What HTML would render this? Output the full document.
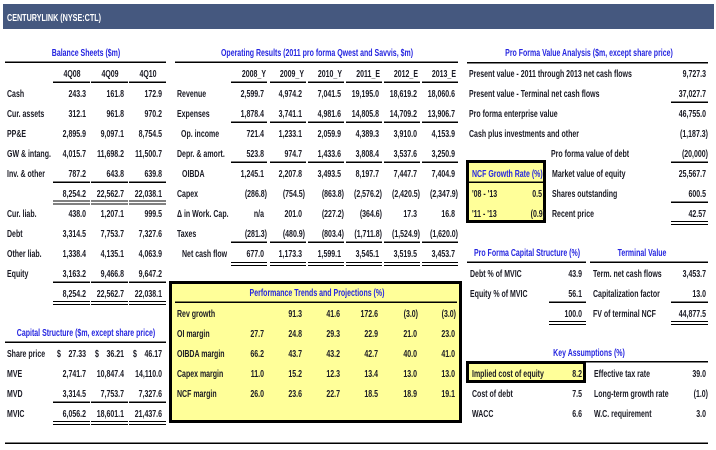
<!DOCTYPE html>
<html><head><meta charset="utf-8"><style>html,body{margin:0;padding:0;background:#fff}svg{display:block}</style></head>
<body>
<svg width="716" height="450" xmlns="http://www.w3.org/2000/svg" font-family="'Liberation Sans', Arial, sans-serif" font-weight="bold" font-size="10">
<style>text{fill:#1a1a24}.e{text-anchor:end}.m{text-anchor:middle}.t{fill:#2626e0}.w{fill:#fff}</style>
<rect width="716" height="450" fill="#fff"/>
<rect x="3" y="4" width="711" height="25" fill="#45587f"/>
<text class="w" transform="translate(7,21) scale(.72,1)">CENTURYLINK (NYSE:CTL)</text>

<!-- yellow boxes -->
<rect x="170.5" y="282.5" width="290" height="139" fill="#ffff99" stroke="#000" stroke-width="3"/>
<rect x="467.5" y="161.5" width="77" height="60" fill="#ffff99" stroke="#000" stroke-width="3"/>
<rect x="467.5" y="362.5" width="117" height="19" fill="#ffff99" stroke="#000" stroke-width="3"/>

<g fill="#000">
<!-- balance -->
<rect x="5" y="61.5" width="161" height="1.5"/>
<rect x="53" y="81.5" width="37" height="1.5"/><rect x="91" y="81.5" width="37" height="1.5"/><rect x="129" y="81.5" width="37" height="1.5"/>
<rect x="53" y="181.5" width="37" height="1.5"/><rect x="91" y="181.5" width="37" height="1.5"/><rect x="129" y="181.5" width="37" height="1.5"/>
<rect x="53" y="200.5" width="37" height="1"/><rect x="91" y="200.5" width="37" height="1"/><rect x="129" y="200.5" width="37" height="1"/>
<rect x="53" y="203.5" width="37" height="1"/><rect x="91" y="203.5" width="37" height="1"/><rect x="129" y="203.5" width="37" height="1"/>
<rect x="53" y="281.5" width="37" height="1.5"/><rect x="91" y="281.5" width="37" height="1.5"/><rect x="129" y="281.5" width="37" height="1.5"/>
<rect x="53" y="301" width="37" height="1"/><rect x="91" y="301" width="37" height="1"/><rect x="129" y="301" width="37" height="1"/>
<rect x="53" y="304" width="37" height="1"/><rect x="91" y="304" width="37" height="1"/><rect x="129" y="304" width="37" height="1"/>
<!-- capital structure -->
<rect x="5" y="341.5" width="161" height="1.5"/>
<rect x="53" y="401.5" width="37" height="1.5"/><rect x="91" y="401.5" width="37" height="1.5"/><rect x="129" y="401.5" width="37" height="1.5"/>
<rect x="53" y="421" width="37" height="1"/><rect x="91" y="421" width="37" height="1"/><rect x="129" y="421" width="37" height="1"/>
<rect x="53" y="424" width="37" height="1"/><rect x="91" y="424" width="37" height="1"/><rect x="129" y="424" width="37" height="1"/>
<!-- bottom -->
<rect x="5" y="442.5" width="703" height="1.5"/>
<!-- operating -->
<rect x="175" y="61.5" width="283" height="1.5"/>
<g>
<rect x="231" y="81.5" width="36" height="1.5"/><rect x="270" y="81.5" width="36" height="1.5"/><rect x="308" y="81.5" width="36" height="1.5"/><rect x="346" y="81.5" width="36" height="1.5"/><rect x="384" y="81.5" width="36" height="1.5"/><rect x="422" y="81.5" width="36" height="1.5"/>
<rect x="231" y="121.5" width="36" height="1.5"/><rect x="270" y="121.5" width="36" height="1.5"/><rect x="308" y="121.5" width="36" height="1.5"/><rect x="346" y="121.5" width="36" height="1.5"/><rect x="384" y="121.5" width="36" height="1.5"/><rect x="422" y="121.5" width="36" height="1.5"/>
<rect x="231" y="161.5" width="36" height="1.5"/><rect x="270" y="161.5" width="36" height="1.5"/><rect x="308" y="161.5" width="36" height="1.5"/><rect x="346" y="161.5" width="36" height="1.5"/><rect x="384" y="161.5" width="36" height="1.5"/><rect x="422" y="161.5" width="36" height="1.5"/>
<rect x="231" y="241.5" width="36" height="1.5"/><rect x="270" y="241.5" width="36" height="1.5"/><rect x="308" y="241.5" width="36" height="1.5"/><rect x="346" y="241.5" width="36" height="1.5"/><rect x="384" y="241.5" width="36" height="1.5"/><rect x="422" y="241.5" width="36" height="1.5"/>
<rect x="231" y="262" width="36" height="1"/><rect x="270" y="262" width="36" height="1"/><rect x="308" y="262" width="36" height="1"/><rect x="346" y="262" width="36" height="1"/><rect x="384" y="262" width="36" height="1"/><rect x="422" y="262" width="36" height="1"/>
<rect x="231" y="265" width="36" height="1"/><rect x="270" y="265" width="36" height="1"/><rect x="308" y="265" width="36" height="1"/><rect x="346" y="265" width="36" height="1"/><rect x="384" y="265" width="36" height="1"/><rect x="422" y="265" width="36" height="1"/>
</g>
<!-- perf line -->
<rect x="175" y="301.5" width="282" height="1.5"/>
<!-- right -->
<rect x="467" y="62" width="241" height="1.5"/>
<rect x="671" y="101.5" width="37" height="1.5"/>
<rect x="671" y="161.5" width="37" height="1.5"/>
<rect x="671" y="201.5" width="37" height="1.5"/>
<rect x="671" y="221" width="37" height="1"/><rect x="671" y="224" width="37" height="1"/>
<rect x="469" y="181.5" width="75" height="1.5"/>
<rect x="467" y="261.5" width="119" height="1.5"/><rect x="590" y="261.5" width="118" height="1.5"/>
<rect x="549" y="301.5" width="37" height="1.5"/><rect x="671" y="301.5" width="37" height="1.5"/>
<rect x="549" y="321" width="37" height="1"/><rect x="671" y="321" width="37" height="1"/>
<rect x="549" y="324" width="37" height="1"/><rect x="671" y="324" width="37" height="1"/>
<rect x="586" y="361" width="122" height="1.5"/>
</g>

<!-- ===== Balance sheets ===== -->
<text class="m t" transform="translate(86,56) scale(.7,1)">Balance Sheets ($m)</text>
<text class="m" transform="translate(72,77) scale(.7,1)">4Q08</text>
<text class="m" transform="translate(110,77) scale(.7,1)">4Q09</text>
<text class="m" transform="translate(148,77) scale(.7,1)">4Q10</text>

<text transform="translate(7,97) scale(.7,1)">Cash</text>
<text class="e" transform="translate(86,97) scale(.7,1)">243.3</text><text class="e" transform="translate(124,97) scale(.7,1)">161.8</text><text class="e" transform="translate(162,97) scale(.7,1)">172.9</text>
<text transform="translate(7,117) scale(.7,1)">Cur. assets</text>
<text class="e" transform="translate(86,117) scale(.7,1)">312.1</text><text class="e" transform="translate(124,117) scale(.7,1)">961.8</text><text class="e" transform="translate(162,117) scale(.7,1)">970.2</text>
<text transform="translate(7,137) scale(.7,1)">PP&amp;E</text>
<text class="e" transform="translate(86,137) scale(.7,1)">2,895.9</text><text class="e" transform="translate(124,137) scale(.7,1)">9,097.1</text><text class="e" transform="translate(162,137) scale(.7,1)">8,754.5</text>
<text transform="translate(7,157) scale(.7,1)">GW &amp; intang.</text>
<text class="e" transform="translate(86,157) scale(.7,1)">4,015.7</text><text class="e" transform="translate(124,157) scale(.7,1)">11,698.2</text><text class="e" transform="translate(162,157) scale(.7,1)">11,500.7</text>
<text transform="translate(7,177) scale(.7,1)">Inv. &amp; other</text>
<text class="e" transform="translate(86,177) scale(.7,1)">787.2</text><text class="e" transform="translate(124,177) scale(.7,1)">643.8</text><text class="e" transform="translate(162,177) scale(.7,1)">639.8</text>
<text class="e" transform="translate(86,197) scale(.7,1)">8,254.2</text><text class="e" transform="translate(124,197) scale(.7,1)">22,562.7</text><text class="e" transform="translate(162,197) scale(.7,1)">22,038.1</text>
<text transform="translate(7,217) scale(.7,1)">Cur. liab.</text>
<text class="e" transform="translate(86,217) scale(.7,1)">438.0</text><text class="e" transform="translate(124,217) scale(.7,1)">1,207.1</text><text class="e" transform="translate(162,217) scale(.7,1)">999.5</text>
<text transform="translate(7,237) scale(.7,1)">Debt</text>
<text class="e" transform="translate(86,237) scale(.7,1)">3,314.5</text><text class="e" transform="translate(124,237) scale(.7,1)">7,753.7</text><text class="e" transform="translate(162,237) scale(.7,1)">7,327.6</text>
<text transform="translate(7,257) scale(.7,1)">Other liab.</text>
<text class="e" transform="translate(86,257) scale(.7,1)">1,338.4</text><text class="e" transform="translate(124,257) scale(.7,1)">4,135.1</text><text class="e" transform="translate(162,257) scale(.7,1)">4,063.9</text>
<text transform="translate(7,277) scale(.7,1)">Equity</text>
<text class="e" transform="translate(86,277) scale(.7,1)">3,163.2</text><text class="e" transform="translate(124,277) scale(.7,1)">9,466.8</text><text class="e" transform="translate(162,277) scale(.7,1)">9,647.2</text>
<text class="e" transform="translate(86,297) scale(.7,1)">8,254.2</text><text class="e" transform="translate(124,297) scale(.7,1)">22,562.7</text><text class="e" transform="translate(162,297) scale(.7,1)">22,038.1</text>

<!-- ===== Capital structure ===== -->
<text class="m t" transform="translate(86,336) scale(.7,1)">Capital Structure ($m, except share price)</text>
<text transform="translate(7,357) scale(.7,1)">Share price</text>
<text transform="translate(57,357) scale(.7,1)">$</text><text class="e" transform="translate(86,357) scale(.7,1)">27.33</text>
<text transform="translate(95,357) scale(.7,1)">$</text><text class="e" transform="translate(124,357) scale(.7,1)">36.21</text>
<text transform="translate(133,357) scale(.7,1)">$</text><text class="e" transform="translate(162,357) scale(.7,1)">46.17</text>
<text transform="translate(7,377) scale(.7,1)">MVE</text>
<text class="e" transform="translate(86,377) scale(.7,1)">2,741.7</text><text class="e" transform="translate(124,377) scale(.7,1)">10,847.4</text><text class="e" transform="translate(162,377) scale(.7,1)">14,110.0</text>
<text transform="translate(7,397) scale(.7,1)">MVD</text>
<text class="e" transform="translate(86,397) scale(.7,1)">3,314.5</text><text class="e" transform="translate(124,397) scale(.7,1)">7,753.7</text><text class="e" transform="translate(162,397) scale(.7,1)">7,327.6</text>
<text transform="translate(7,417) scale(.7,1)">MVIC</text>
<text class="e" transform="translate(86,417) scale(.7,1)">6,056.2</text><text class="e" transform="translate(124,417) scale(.7,1)">18,601.1</text><text class="e" transform="translate(162,417) scale(.7,1)">21,437.6</text>

<!-- ===== Operating results ===== -->
<text class="m t" transform="translate(317,56) scale(.7,1)">Operating Results (2011 pro forma Qwest and Savvis, $m)</text>
<text class="e" transform="translate(266,77) scale(.7,1)">2008_Y</text>
<text class="e" transform="translate(304,77) scale(.7,1)">2009_Y</text>
<text class="e" transform="translate(342,77) scale(.7,1)">2010_Y</text>
<text class="e" transform="translate(380,77) scale(.7,1)">2011_E</text>
<text class="e" transform="translate(418,77) scale(.7,1)">2012_E</text>
<text class="e" transform="translate(456,77) scale(.7,1)">2013_E</text>

<text transform="translate(177,97) scale(.7,1)">Revenue</text>
<text class="e" transform="translate(264,97) scale(.7,1)">2,599.7</text><text class="e" transform="translate(302,97) scale(.7,1)">4,974.2</text><text class="e" transform="translate(341,97) scale(.7,1)">7,041.5</text><text class="e" transform="translate(379,97) scale(.7,1)">19,195.0</text><text class="e" transform="translate(417,97) scale(.7,1)">18,619.2</text><text class="e" transform="translate(455,97) scale(.7,1)">18,060.6</text>
<text transform="translate(177,117) scale(.7,1)">Expenses</text>
<text class="e" transform="translate(264,117) scale(.7,1)">1,878.4</text><text class="e" transform="translate(302,117) scale(.7,1)">3,741.1</text><text class="e" transform="translate(341,117) scale(.7,1)">4,981.6</text><text class="e" transform="translate(379,117) scale(.7,1)">14,805.8</text><text class="e" transform="translate(417,117) scale(.7,1)">14,709.2</text><text class="e" transform="translate(455,117) scale(.7,1)">13,906.7</text>
<text transform="translate(181,137) scale(.7,1)">Op. income</text>
<text class="e" transform="translate(264,137) scale(.7,1)">721.4</text><text class="e" transform="translate(302,137) scale(.7,1)">1,233.1</text><text class="e" transform="translate(341,137) scale(.7,1)">2,059.9</text><text class="e" transform="translate(379,137) scale(.7,1)">4,389.3</text><text class="e" transform="translate(417,137) scale(.7,1)">3,910.0</text><text class="e" transform="translate(455,137) scale(.7,1)">4,153.9</text>
<text transform="translate(177,157) scale(.7,1)">Depr. &amp; amort.</text>
<text class="e" transform="translate(264,157) scale(.7,1)">523.8</text><text class="e" transform="translate(302,157) scale(.7,1)">974.7</text><text class="e" transform="translate(341,157) scale(.7,1)">1,433.6</text><text class="e" transform="translate(379,157) scale(.7,1)">3,808.4</text><text class="e" transform="translate(417,157) scale(.7,1)">3,537.6</text><text class="e" transform="translate(455,157) scale(.7,1)">3,250.9</text>
<text transform="translate(182,177) scale(.7,1)">OIBDA</text>
<text class="e" transform="translate(264,177) scale(.7,1)">1,245.1</text><text class="e" transform="translate(302,177) scale(.7,1)">2,207.8</text><text class="e" transform="translate(341,177) scale(.7,1)">3,493.5</text><text class="e" transform="translate(379,177) scale(.7,1)">8,197.7</text><text class="e" transform="translate(417,177) scale(.7,1)">7,447.7</text><text class="e" transform="translate(455,177) scale(.7,1)">7,404.9</text>
<text transform="translate(177,197) scale(.7,1)">Capex</text>
<text class="e" transform="translate(267,197) scale(.7,1)">(286.8)</text><text class="e" transform="translate(305,197) scale(.7,1)">(754.5)</text><text class="e" transform="translate(344,197) scale(.7,1)">(863.8)</text><text class="e" transform="translate(382,197) scale(.7,1)">(2,576.2)</text><text class="e" transform="translate(420,197) scale(.7,1)">(2,420.5)</text><text class="e" transform="translate(458,197) scale(.7,1)">(2,347.9)</text>
<text transform="translate(177,217) scale(.7,1)">Δ in Work. Cap.</text>
<text class="e" transform="translate(264,217) scale(.7,1)">n/a</text><text class="e" transform="translate(302,217) scale(.7,1)">201.0</text><text class="e" transform="translate(344,217) scale(.7,1)">(227.2)</text><text class="e" transform="translate(382,217) scale(.7,1)">(364.6)</text><text class="e" transform="translate(417,217) scale(.7,1)">17.3</text><text class="e" transform="translate(455,217) scale(.7,1)">16.8</text>
<text transform="translate(177,237) scale(.7,1)">Taxes</text>
<text class="e" transform="translate(267,237) scale(.7,1)">(281.3)</text><text class="e" transform="translate(305,237) scale(.7,1)">(480.9)</text><text class="e" transform="translate(344,237) scale(.7,1)">(803.4)</text><text class="e" transform="translate(382,237) scale(.7,1)">(1,711.8)</text><text class="e" transform="translate(420,237) scale(.7,1)">(1,524.9)</text><text class="e" transform="translate(458,237) scale(.7,1)">(1,620.0)</text>
<text transform="translate(182,257) scale(.7,1)">Net cash flow</text>
<text class="e" transform="translate(264,257) scale(.7,1)">677.0</text><text class="e" transform="translate(302,257) scale(.7,1)">1,173.3</text><text class="e" transform="translate(341,257) scale(.7,1)">1,599.1</text><text class="e" transform="translate(379,257) scale(.7,1)">3,545.1</text><text class="e" transform="translate(417,257) scale(.7,1)">3,519.5</text><text class="e" transform="translate(455,257) scale(.7,1)">3,453.7</text>

<!-- ===== Performance ===== -->
<text class="m t" transform="translate(317,296) scale(.7,1)">Performance Trends and Projections (%)</text>
<text transform="translate(177,317) scale(.7,1)">Rev growth</text>
<text class="e" transform="translate(302,317) scale(.7,1)">91.3</text><text class="e" transform="translate(340,317) scale(.7,1)">41.6</text><text class="e" transform="translate(378,317) scale(.7,1)">172.6</text><text class="e" transform="translate(418,317) scale(.7,1)">(3.0)</text><text class="e" transform="translate(456,317) scale(.7,1)">(3.0)</text>
<text transform="translate(177,337) scale(.7,1)">OI margin</text>
<text class="e" transform="translate(264,337) scale(.7,1)">27.7</text><text class="e" transform="translate(302,337) scale(.7,1)">24.8</text><text class="e" transform="translate(340,337) scale(.7,1)">29.3</text><text class="e" transform="translate(378,337) scale(.7,1)">22.9</text><text class="e" transform="translate(417,337) scale(.7,1)">21.0</text><text class="e" transform="translate(455,337) scale(.7,1)">23.0</text>
<text transform="translate(177,357) scale(.7,1)">OIBDA margin</text>
<text class="e" transform="translate(264,357) scale(.7,1)">66.2</text><text class="e" transform="translate(302,357) scale(.7,1)">43.7</text><text class="e" transform="translate(340,357) scale(.7,1)">43.2</text><text class="e" transform="translate(378,357) scale(.7,1)">42.7</text><text class="e" transform="translate(417,357) scale(.7,1)">40.0</text><text class="e" transform="translate(455,357) scale(.7,1)">41.0</text>
<text transform="translate(177,377) scale(.7,1)">Capex margin</text>
<text class="e" transform="translate(264,377) scale(.7,1)">11.0</text><text class="e" transform="translate(302,377) scale(.7,1)">15.2</text><text class="e" transform="translate(340,377) scale(.7,1)">12.3</text><text class="e" transform="translate(378,377) scale(.7,1)">13.4</text><text class="e" transform="translate(417,377) scale(.7,1)">13.0</text><text class="e" transform="translate(455,377) scale(.7,1)">13.0</text>
<text transform="translate(177,397) scale(.7,1)">NCF margin</text>
<text class="e" transform="translate(264,397) scale(.7,1)">26.0</text><text class="e" transform="translate(302,397) scale(.7,1)">23.6</text><text class="e" transform="translate(340,397) scale(.7,1)">22.7</text><text class="e" transform="translate(378,397) scale(.7,1)">18.5</text><text class="e" transform="translate(417,397) scale(.7,1)">18.9</text><text class="e" transform="translate(455,397) scale(.7,1)">19.1</text>

<!-- ===== Pro forma value analysis ===== -->
<text class="m t" transform="translate(589,56) scale(.7,1)">Pro Forma Value Analysis ($m, except share price)</text>
<text transform="translate(469,77) scale(.7,1)">Present value - 2011 through 2013 net cash flows</text>
<text class="e" transform="translate(706,77) scale(.7,1)">9,727.3</text>
<text transform="translate(469,97) scale(.7,1)">Present value - Terminal net cash flows</text>
<text class="e" transform="translate(706,97) scale(.7,1)">37,027.7</text>
<text transform="translate(469,117) scale(.7,1)">Pro forma enterprise value</text>
<text class="e" transform="translate(706,117) scale(.7,1)">46,755.0</text>
<text transform="translate(469,137) scale(.7,1)">Cash plus investments and other</text>
<text class="e" transform="translate(708,137) scale(.7,1)">(1,187.3)</text>
<text transform="translate(551,157) scale(.7,1)">Pro forma value of debt</text>
<text class="e" transform="translate(708,157) scale(.7,1)">(20,000)</text>
<text transform="translate(552,177) scale(.7,1)">Market value of equity</text>
<text class="e" transform="translate(706,177) scale(.7,1)">25,567.7</text>
<text transform="translate(552,197) scale(.7,1)">Shares outstanding</text>
<text class="e" transform="translate(706,197) scale(.7,1)">600.5</text>
<text transform="translate(552,217) scale(.7,1)">Recent price</text>
<text class="e" transform="translate(706,217) scale(.7,1)">42.57</text>

<!-- NCF growth -->
<text class="t" transform="translate(472,177) scale(.7,1)">NCF Growth Rate (%)</text>
<text transform="translate(472,197) scale(.7,1)">'08 - '13</text>
<text class="e" transform="translate(542,197) scale(.7,1)">0.5</text>
<text transform="translate(472,217) scale(.7,1)">'11 - '13</text>
<text class="e" transform="translate(545,217) scale(.7,1)">(0.9)</text>

<!-- Pro forma capital structure / terminal value -->
<text class="m t" transform="translate(527,256) scale(.7,1)">Pro Forma Capital Structure (%)</text>
<text class="m t" transform="translate(642,256) scale(.7,1)">Terminal Value</text>
<text transform="translate(470,277) scale(.7,1)">Debt % of MVIC</text>
<text class="e" transform="translate(582,277) scale(.7,1)">43.9</text>
<text transform="translate(470,297) scale(.7,1)">Equity % of MVIC</text>
<text class="e" transform="translate(582,297) scale(.7,1)">56.1</text>
<text class="e" transform="translate(582,317) scale(.7,1)">100.0</text>
<text transform="translate(593,277) scale(.7,1)">Term. net cash flows</text>
<text class="e" transform="translate(706,277) scale(.7,1)">3,453.7</text>
<text transform="translate(593,297) scale(.7,1)">Capitalization factor</text>
<text class="e" transform="translate(706,297) scale(.7,1)">13.0</text>
<text transform="translate(593,317) scale(.7,1)">FV of terminal NCF</text>
<text class="e" transform="translate(706,317) scale(.7,1)">44,877.5</text>

<!-- Key assumptions -->
<text class="m t" transform="translate(589,356) scale(.7,1)">Key Assumptions (%)</text>
<text transform="translate(472,377) scale(.7,1)">Implied cost of equity</text>
<text class="e" transform="translate(582,377) scale(.7,1)">8.2</text>
<text transform="translate(472,397) scale(.7,1)">Cost of debt</text>
<text class="e" transform="translate(582,397) scale(.7,1)">7.5</text>
<text transform="translate(472,417) scale(.7,1)">WACC</text>
<text class="e" transform="translate(582,417) scale(.7,1)">6.6</text>
<text transform="translate(594,377) scale(.7,1)">Effective tax rate</text>
<text class="e" transform="translate(706,377) scale(.7,1)">39.0</text>
<text transform="translate(594,397) scale(.7,1)">Long-term growth rate</text>
<text class="e" transform="translate(708,397) scale(.7,1)">(1.0)</text>
<text transform="translate(594,417) scale(.7,1)">W.C. requirement</text>
<text class="e" transform="translate(706,417) scale(.7,1)">3.0</text>
</svg>
</body></html>
